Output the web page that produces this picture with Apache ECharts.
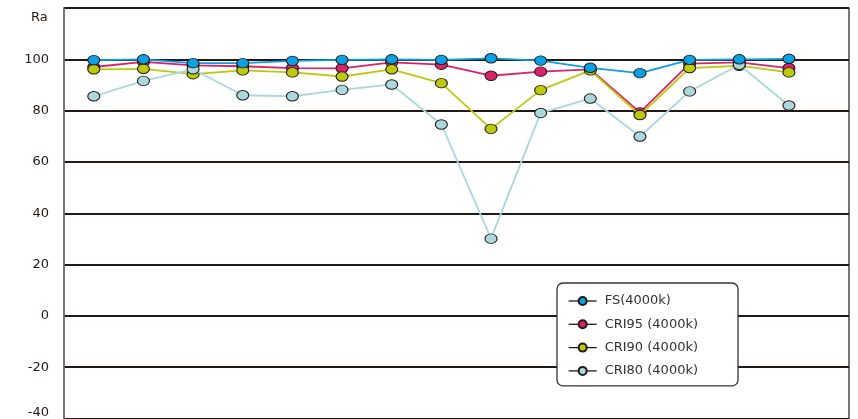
<!DOCTYPE html>
<html>
<head>
<meta charset="utf-8">
<script src="https://cdn.jsdelivr.net/npm/echarts@6/dist/echarts.min.js"></script>
<style>
html,body{margin:0;padding:0;background:#fff;}
#c{width:858px;height:419px;}
</style>
</head>
<body>
<div id="c"></div>
<script>
var categories = ["1","2","3","4","5","6","7","8","9","10","11","12","13","14","15"];
var fs    = [99.7, 100, 98.5, 98.5, 99.4, 99.8, 100, 99.8, 100.4, 99.5, 96.7, 94.6, 99.8, 100, 100.2];
var cri95 = [97.0, 99.0, 97.6, 97.3, 96.6, 96.5, 98.8, 97.9, 93.6, 95.2, 96.1, 79.3, 98.3, 98.8, 96.6];
var cri90 = [96.1, 96.3, 94.2, 95.7, 94.9, 93.3, 96.1, 90.7, 72.9, 88.0, 95.7, 78.3, 96.6, 97.5, 94.9];
var cri80 = [85.6, 91.6, 96.1, 86.0, 85.6, 88.1, 90.2, 74.6, 30.1, 79.1, 84.7, 69.9, 87.5, 97.9, 82.0];
var yTicks = [-40, -20, 0, 20, 40, 60, 80, 100];
var names = ["FS(4000k)", "CRI95 (4000k)", "CRI90 (4000k)", "CRI80 (4000k)"];
var FONT = 'DejaVu Sans';

function pts(arr){ return arr.map(function(v,i){ return [i, v]; }); }

var chart = echarts.init(document.getElementById('c'));
function mk(name, data, color, z){
  return {
    name: name, type: 'line', data: pts(data), z: z,
    symbol: 'circle', symbolSize: [12, 9.5],
    lineStyle: {color: color, width: 1.8},
    itemStyle: {color: color, borderColor: '#231815', borderWidth: 1},
    emphasis: {disabled: true}, animation: false
  };
}
chart.setOption({
  animation: false,
  grid: {left: 64, right: 9, top: 8, bottom: 0, show: true, borderColor: '#231815', borderWidth: 1.2},
  xAxis: {type: 'value', min: -0.6, max: 15.21, show: false},
  yAxis: {
    type: 'value', min: -40, max: 120, interval: 20,
    axisLine: {show: true, onZero: false, lineStyle: {color: '#777', width: 1.5}},
    axisTick: {show: false},
    splitLine: {show: true, lineStyle: {color: '#231815', width: 2}},
    axisLabel: {
      margin: 15, fontSize: 13, color: '#231815', fontFamily: FONT,
      formatter: function(v){
        if (yTicks.indexOf(v) < 0) return '';
        if (v === -40) return '{b|' + v + '}';
        return String(v);
      },
      rich: {b: {fontSize: 13, color: '#231815', fontFamily: FONT, padding: [0,0,12,0]}}
    }
  },
  graphic: [{type: 'text', left: 31, top: 11, style: {text: 'Ra', fontSize: 13, fill: '#231815', fontFamily: FONT}}],
  legend: {
    orient: 'vertical', left: 557, top: 283,
    data: names,
    backgroundColor: '#fff', borderColor: '#333', borderWidth: 1.3, borderRadius: 6,
    padding: [11, 40, 8, 11],
    itemWidth: 28, itemHeight: 10, itemGap: 9.3,
    lineStyle: {color: '#231815', width: 1.3},
    textStyle: {fontSize: 13, color: '#333', fontFamily: FONT, lineHeight: 14, padding: [0,0,0,3]}
  },
  series: [
    mk(names[1], cri95, '#d9226c', 2),
    mk(names[2], cri90, '#bcca0c', 3),
    mk(names[3], cri80, '#a9d8dd', 4),
    mk(names[0], fs, '#0aa0e4', 5)
  ]
});
</script>
</body>
</html>
